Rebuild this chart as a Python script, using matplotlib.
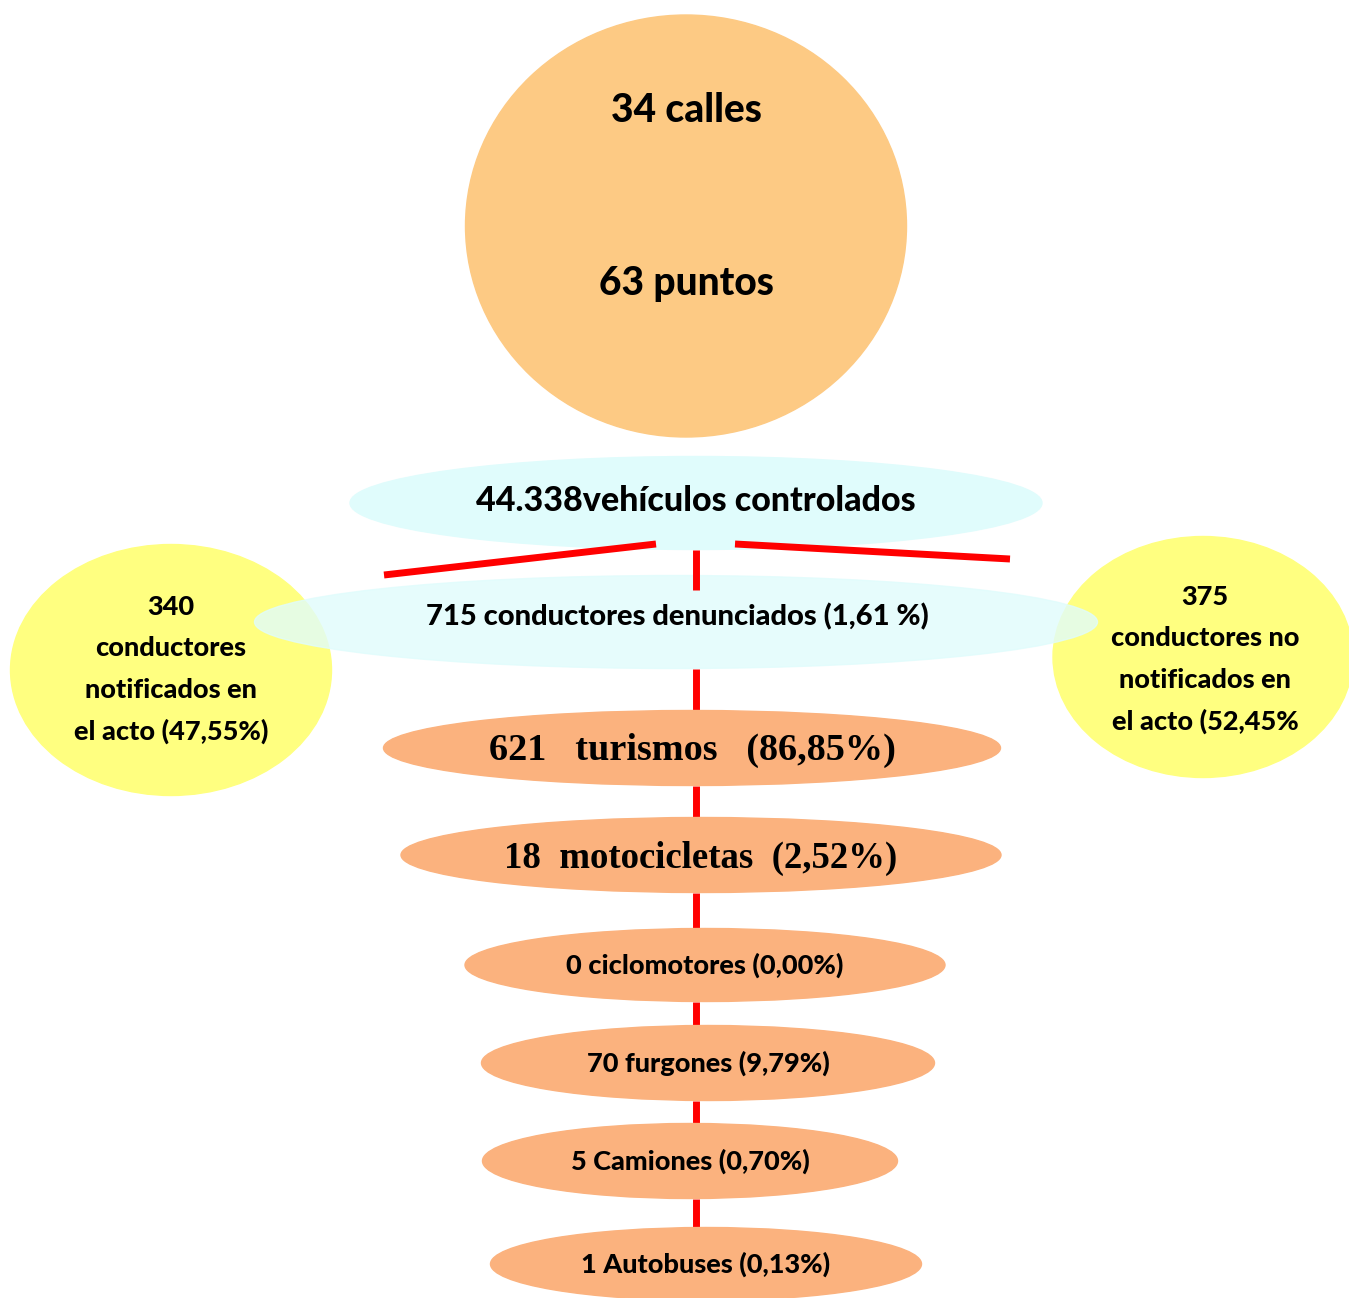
import matplotlib.pyplot as plt
from matplotlib.patches import Ellipse

# datos
calles = 34
puntos = 63
vehiculos = "44.338"
denunciados = 715
pct_denunciados = "1,61"
notificados = 340
pct_notificados = "47,55"
no_notificados = 375
pct_no_notificados = "52,45"

tipos = ["turismos", "motocicletas", "ciclomotores", "furgones", "Camiones", "Autobuses"]
cantidades = [621, 18, 0, 70, 5, 1]
porcentajes = ["86,85", "2,52", "0,00", "9,79", "0,70", "0,13"]

SANS = "Lato"
SERIF = "Liberation Serif"
WEIGHT = 900
RED = "#ff0000"
ORANGE = "#fdca84"
CYAN = "#e0fcfc"
YELLOW = "#ffff80"
SALMON = "#fbb27e"

W, H = 1349, 1298
fig = plt.figure(figsize=(W / 100, H / 100), dpi=100)
ax = fig.add_axes([0, 0, 1, 1])
ax.set_xlim(0, W)
ax.set_ylim(H, 0)
ax.axis("off")

# circulo superior
ax.add_patch(Ellipse((686, 226), 441, 422, color=ORANGE, zorder=1))
ax.text(686, 111, f"{calles} calles", ha="center", va="center",
        fontsize=28, fontweight=WEIGHT, family=SANS, zorder=5)
ax.text(686, 284, f"{puntos} puntos", ha="center", va="center",
        fontsize=28, fontweight=WEIGHT, family=SANS, zorder=5)

# elipses laterales (amarillas)
ax.add_patch(Ellipse((171, 670), 321, 251, color=YELLOW, zorder=1))
ax.add_patch(Ellipse((1203, 657), 300, 241, color=YELLOW, zorder=1))
izq = [str(notificados), "conductores", "notificados en", f"el acto ({pct_notificados}%)"]
der = [str(no_notificados), "conductores no", "notificados en", f"el acto ({pct_no_notificados}%"]
for i, s in enumerate(izq):
    ax.text(171, 607 + i * 41.3, s, ha="center", va="center",
            fontsize=19.5, fontweight=WEIGHT, family=SANS, zorder=5)
for i, s in enumerate(der):
    ax.text(1205, 597 + i * 41.3, s, ha="center", va="center",
            fontsize=19.5, fontweight=WEIGHT, family=SANS, zorder=5)

# elipses celestes
e1 = (696, 503, 692, 93)
e2 = (676, 622, 843, 93)
ax.add_patch(Ellipse(e1[:2], e1[2], e1[3], color=CYAN, zorder=2))
ax.add_patch(Ellipse(e2[:2], e2[2], e2[3], color=CYAN, alpha=0.8, zorder=2))
ax.text(696, 501, f"{vehiculos}vehículos controlados", ha="center", va="center",
        fontsize=24.5, fontweight=WEIGHT, family=SANS, zorder=5)
ax.text(677, 617, f"{denunciados} conductores denunciados ({pct_denunciados} %)",
        ha="center", va="center", fontsize=21, fontweight=WEIGHT, family=SANS, zorder=5)

# conectores rojos
lw = 5
ax.plot([384, 656], [575, 544], color=RED, lw=lw, solid_capstyle="butt", zorder=3)
ax.plot([735, 1010], [544, 559], color=RED, lw=lw, solid_capstyle="butt", zorder=3)
ax.plot([696, 696], [e1[1] + e1[3] / 2, 590], color=RED, lw=lw,
        solid_capstyle="butt", zorder=3)

# elipses de tipos de vehículo
centros = [(692, 748), (701, 855), (705, 965), (708, 1063), (690, 1161), (706, 1264)]
anchos = [617, 600, 480, 453, 415, 431]
altos = [75, 75, 73, 75, 75, 73]
prev_bottom = e2[1] + e2[3] / 2
for i, (t, n, p) in enumerate(zip(tipos, cantidades, porcentajes)):
    cx, cy = centros[i]
    ax.plot([696, 696], [prev_bottom, cy - altos[i] / 2], color=RED, lw=lw,
            solid_capstyle="butt", zorder=3)
    ax.add_patch(Ellipse((cx, cy), anchos[i], altos[i], color=SALMON, zorder=4))
    if i == 0:
        ax.text(cx, cy + 2, f"{n}   {t}   ({p}%)", ha="center", va="center",
                fontsize=27.5, fontweight="bold", family=SERIF, zorder=5)
    elif i == 1:
        ax.text(cx, cy + 3, f"{n}  {t}  ({p}%)", ha="center", va="center",
                fontsize=26.5, fontweight="bold", family=SERIF, zorder=5)
    else:
        ax.text(cx, cy, f"{n} {t} ({p}%)", ha="center", va="center",
                fontsize=19.5, fontweight=WEIGHT, family=SANS, zorder=5)
    prev_bottom = cy + altos[i] / 2

fig.savefig("out.png", dpi=100)
